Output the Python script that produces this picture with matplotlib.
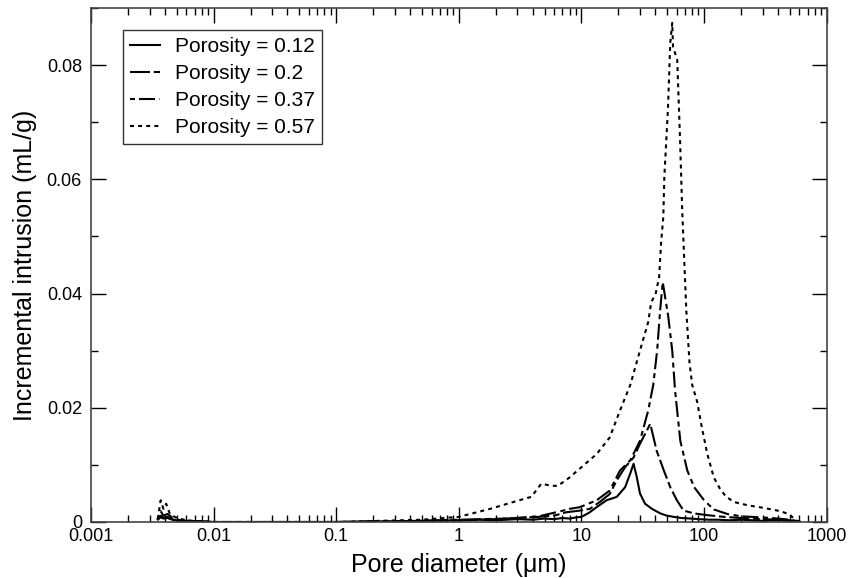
import matplotlib
matplotlib.use("Agg")
import matplotlib.pyplot as plt
from matplotlib.ticker import FixedLocator, LogLocator, NullFormatter, MultipleLocator

plt.rcParams['font.family'] = ['Liberation Sans', 'DejaVu Sans']

# ---- data ----
labels = ["Porosity = 0.12", "Porosity = 0.2", "Porosity = 0.37", "Porosity = 0.57"]

x_012 = [0.0035, 0.0037, 0.0039, 0.0042, 0.0046, 0.005, 0.006, 0.008, 0.01, 0.02, 0.05, 0.1, 0.2, 0.5,
         1, 1.5, 2, 3, 4, 5, 6, 7, 8, 9, 10, 11.5, 13.3, 16, 19.4, 22.7, 25, 26.6, 28.3, 30, 33, 37.6,
         44, 50, 56.5, 65, 78, 90, 110, 130, 160, 200, 250, 300, 400, 500, 600]
y_012 = [0.0005, 0.0008, 0.0006, 0.0007, 0.0004, 0.0003, 0.0002, 0.0001, 0, 0, 0, 0, 0.0001, 0.0002,
         0.0003, 0.0004, 0.0003, 0.0005, 0.0004, 0.0006, 0.0005, 0.0007, 0.0006, 0.0008, 0.0009, 0.0016,
         0.0026, 0.0038, 0.0044, 0.0061, 0.0085, 0.0102, 0.0078, 0.005, 0.0032, 0.0023, 0.0015, 0.0011,
         0.0009, 0.0007, 0.0006, 0.0005, 0.0004, 0.0004, 0.0003, 0.0004, 0.0003, 0.0002, 0.0003, 0.0002,
         0.0001]

x_020 = [0.0035, 0.0037, 0.0039, 0.0042, 0.0046, 0.005, 0.006, 0.008, 0.01, 0.05, 0.1, 0.5, 1, 2.4,
         4.5, 6.2, 7.5, 9.7, 11.7, 14.1, 17, 19.4, 22.7, 26.6, 30, 33, 36.4, 41, 47, 53, 60, 68, 83,
         106, 145, 200, 300, 400, 500, 600]
y_020 = [0.0003, 0.0011, 0.0007, 0.0009, 0.0005, 0.0003, 0.0002, 0.0001, 0, 0, 0, 0.0002, 0.0004,
         0.0006, 0.0009, 0.0012, 0.0017, 0.002, 0.0023, 0.0035, 0.0049, 0.0073, 0.0096, 0.0113, 0.0137,
         0.0154, 0.0172, 0.0125, 0.009, 0.0061, 0.0038, 0.002, 0.0015, 0.0012, 0.0009, 0.0007, 0.0005,
         0.0004, 0.0003, 0.0001]

x_037 = [0.0035, 0.0037, 0.0039, 0.0042, 0.0046, 0.005, 0.006, 0.008, 0.01, 0.05, 0.1, 0.5, 1, 2, 3,
         4.5, 7.1, 8, 9.7, 13.3, 17, 20.6, 25, 30, 35, 38.5, 41.4, 43.8, 46, 51, 55, 58, 64, 73, 83, 100,
         120, 155, 200, 300, 400, 500, 600]
y_037 = [0.0004, 0.0019, 0.0011, 0.0014, 0.0008, 0.0004, 0.0002, 0.0001, 0, 0, 0, 0.0002, 0.0003,
         0.0005, 0.0007, 0.001, 0.002, 0.0023, 0.0026, 0.0038, 0.0055, 0.009, 0.0108, 0.0142, 0.0195,
         0.024, 0.030, 0.037, 0.042, 0.036, 0.030, 0.023, 0.0142, 0.009, 0.0061, 0.0038, 0.0022,
         0.0014, 0.001, 0.0008, 0.0006, 0.0004, 0.0001]

x_057 = [0.0035, 0.0037, 0.0039, 0.0041, 0.0044, 0.005, 0.006, 0.008, 0.01, 0.05, 0.1, 0.5, 1, 1.8,
         3.1, 3.9, 4.7, 5.5, 6.4, 8, 10, 13.3, 17, 20.6, 25, 30, 35, 37, 40.4, 43, 44.6, 46.5, 47.4,
         50.7, 53, 55, 55.8, 60.4, 63.8, 66.3, 71.6, 76, 80, 88, 95, 106, 120, 135, 150, 175, 230,
         300, 420, 500, 550, 600]
y_057 = [0.0005, 0.0038, 0.0023, 0.0032, 0.0014, 0.0007, 0.0003, 0.0001, 0, 0, 0, 0.0004, 0.0009,
         0.0023, 0.0038, 0.0044, 0.0067, 0.0064, 0.0063, 0.0078, 0.0096, 0.0119, 0.0148, 0.0195, 0.024,
         0.030, 0.035, 0.0384, 0.0401, 0.0429, 0.0489, 0.0534, 0.0604, 0.0722, 0.0839, 0.0874, 0.0832,
         0.0809, 0.0664, 0.0546, 0.0371, 0.028, 0.024, 0.021, 0.017, 0.012, 0.0078, 0.0058, 0.0045,
         0.0035, 0.0029, 0.0025, 0.0019, 0.0013, 0.0004, 0]

x_ticks = [0.001, 0.01, 0.1, 1, 10, 100, 1000]
x_ticklabels = ["0.001", "0.01", "0.1", "1", "10", "100", "1000"]
y_ticks = [0, 0.02, 0.04, 0.06, 0.08]
y_ticklabels = ["0", "0.02", "0.04", "0.06", "0.08"]

# ---- figure ----
W, H = 851, 578
left_px, right_px, top_px, bottom_px = 91, 826.7, 8, 522
axh = bottom_px - top_px
axw = right_px - left_px
fig = plt.figure(figsize=(W / 100, H / 100), dpi=100)
ax = fig.add_axes([left_px / W, 1 - bottom_px / H, axw / W, axh / H])

styles = [
    dict(linestyle='-'),
    dict(linestyle=(0, (9.6, 1.8, 3.2, 1.8))),
    dict(linestyle=(0, (2.4, 1.9, 7.7, 2.2))),
    dict(linestyle=(0, (1.9, 2.0))),
]
series = [(x_012, y_012), (x_020, y_020), (x_037, y_037), (x_057, y_057)]
for (xs, ys), lab, st in zip(series, labels, styles):
    ax.plot(xs, ys, color='black', linewidth=1.5, label=lab, **st)

ax.set_xscale('log')
ax.set_xlim(0.001, 1000)
ax.set_ylim(0, 0.09)

ax.xaxis.set_major_locator(FixedLocator(x_ticks))
ax.set_xticklabels(x_ticklabels)
ax.xaxis.set_minor_locator(LogLocator(base=10, subs=range(2, 10), numticks=20))
ax.xaxis.set_minor_formatter(NullFormatter())
ax.yaxis.set_major_locator(FixedLocator(y_ticks))
ax.set_yticklabels(y_ticklabels)
ax.yaxis.set_minor_locator(MultipleLocator(0.01))

ax.tick_params(which='both', direction='in', top=True, right=True, labelsize=13, width=1.0,
               color='black')
ax.tick_params(which='major', length=10.5)
ax.tick_params(which='minor', length=5)
ax.tick_params(axis='x', pad=4)
ax.tick_params(axis='y', pad=6.5)
for sp in ax.spines.values():
    sp.set_color('#444444')
    sp.set_linewidth(1.2)

xl = ax.set_xlabel("Pore diameter (μm)", fontsize=18)
xl.set_verticalalignment('bottom')
ax.xaxis.set_label_coords(0.5, -(577 - bottom_px) / axh)
yl = ax.set_ylabel("Incremental intrusion (mL/g)", fontsize=18)
yl.set_verticalalignment('center')
ax.yaxis.set_label_coords(-(left_px - 25) / axw, 0.5)

leg = ax.legend(loc='upper left', bbox_to_anchor=((122.7 - left_px) / axw, 1 - (30 - top_px) / axh),
                fontsize=15, frameon=True, fancybox=False, edgecolor='black',
                handlelength=1.44, handletextpad=0.72, borderpad=0.35, labelspacing=0.38,
                borderaxespad=0)
leg.get_frame().set_linewidth(1.0)

fig.savefig("out.png", dpi=100)
